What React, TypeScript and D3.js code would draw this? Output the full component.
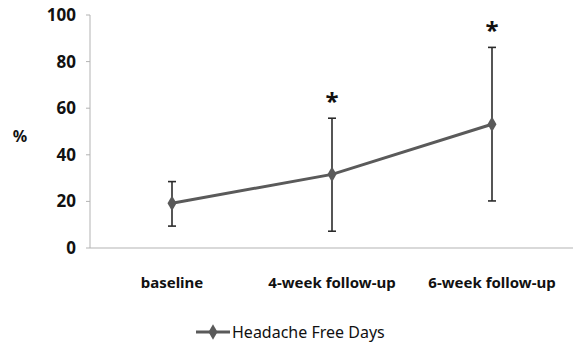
import React from "react";
import * as d3 from "d3";

const categories = ["baseline", "4-week follow-up", "6-week follow-up"];
const means = [19.2, 31.6, 53.1];
const upper = [28.5, 55.7, 86.1];
const lower = [9.4, 7.2, 20.2];
const significant = [false, true, true];
const yTicks = [0, 20, 40, 60, 80, 100];
const seriesName = "Headache Free Days";

const W = 573;
const H = 347;
const font = "'Noto Sans', 'DejaVu Sans', sans-serif";

const App = () => {
  const x = d3.scalePoint<string>().domain(categories).range([172, 492]);
  const y = d3.scaleLinear().domain([0, 100]).range([248, 15]);

  const line = d3
    .line<number>()
    .x((d, i) => x(categories[i]) as number)
    .y((d) => y(d));

  const diamond = d3.symbol().type(d3.symbolDiamond).size(70);

  return (
    <svg width={W} height={H} style={{ position: "absolute", left: 0, top: 0, background: "#fff" }}>
      {/* y axis */}
      <line x1={90} x2={90} y1={y(100)} y2={y(0)} stroke="#b3b3b3" strokeWidth={1} />
      {yTicks.map((t) => (
        <g key={t}>
          <line x1={86} x2={90} y1={y(t)} y2={y(t)} stroke="#b3b3b3" />
          <text
            x={76}
            y={y(t)}
            dy="0.35em"
            textAnchor="end"
            fontFamily={font}
            fontWeight="bold"
            fontSize={17}
            fill="#111"
          >
            {t}
          </text>
        </g>
      ))}
      <text x={20} y={136} dy="0.35em" textAnchor="middle" fontFamily={font} fontWeight="bold" fontSize={16} fill="#111">
        %
      </text>

      {/* x axis */}
      <line x1={90} x2={W} y1={y(0)} y2={y(0)} stroke="#b3b3b3" strokeWidth={1} />
      {categories.map((c) => (
        <text
          key={c}
          x={x(c)}
          y={283}
          dy="0.35em"
          textAnchor="middle"
          fontFamily={font}
          fontWeight="bold"
          fontSize={15}
          fill="#111"
        >
          {c}
        </text>
      ))}

      {/* series line */}
      <path d={line(means) || ""} fill="none" stroke="#5a5a5a" strokeWidth={3} />

      {/* error bars */}
      {categories.map((c, i) => {
        const cx = x(c) as number;
        return (
          <g key={c} stroke="#2b2b2b" strokeWidth={1.6}>
            <line x1={cx} x2={cx} y1={y(upper[i])} y2={y(lower[i])} />
            <line x1={cx - 4} x2={cx + 4} y1={y(upper[i])} y2={y(upper[i])} />
            <line x1={cx - 4} x2={cx + 4} y1={y(lower[i])} y2={y(lower[i])} />
          </g>
        );
      })}

      {/* markers */}
      {categories.map((c, i) => (
        <path
          key={c}
          d={diamond() || ""}
          transform={`translate(${x(c)},${y(means[i])})`}
          fill="#5a5a5a"
        />
      ))}

      {/* significance */}
      {categories.map((c, i) =>
        significant[i] ? (
          <text
            key={c}
            x={x(c)}
            y={y(upper[i]) - 8}
            textAnchor="middle"
            fontFamily={font}
            fontWeight="bold"
            fontSize={24}
            fill="#111"
          >
            *
          </text>
        ) : null
      )}

      {/* legend */}
      <g transform="translate(196,332)">
        <line x1={0} x2={34} y1={0} y2={0} stroke="#5a5a5a" strokeWidth={3} />
        <path d={diamond() || ""} transform="translate(17,0)" fill="#5a5a5a" />
        <text x={36} y={0} dy="0.35em" fontFamily={font} fontSize={16} fill="#111">
          {seriesName}
        </text>
      </g>
    </svg>
  );
};

export default App;
